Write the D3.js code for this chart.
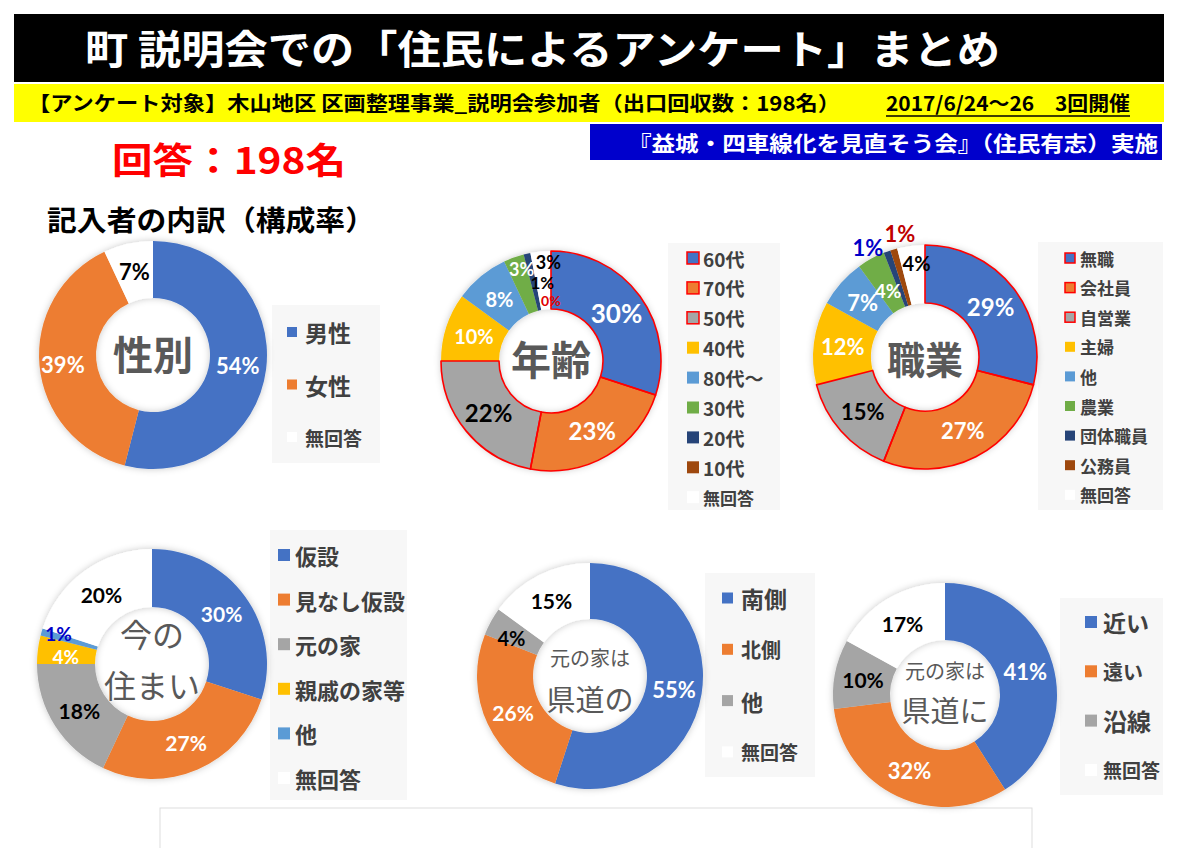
<!DOCTYPE html>
<html><head><meta charset="utf-8">
<script src="https://cdn.jsdelivr.net/npm/d3@7/dist/d3.min.js"></script>
<style>body{margin:0;background:#fff} svg{display:block}</style>
</head><body>
<svg id="c" width="1200" height="848"></svg>
<script>
// ---------- texts ----------
const titleText = "町 説明会での「住民によるアンケート」まとめ";
const targetText = "【アンケート対象】木山地区 区画整理事業_説明会参加者（出口回収数：198名）";
const dateText = "2017/6/24～26　3回開催";
const hostText = "『益城・四車線化を見直そう会』（住民有志）実施";
const answerText = "回答：198名";
const sectionText = "記入者の内訳（構成率）";

// ---------- data ----------
const genderCats = ["男性", "女性", "無回答"];
const genderPct = [54, 39, 7];
const ageCats = ["60代", "70代", "50代", "40代", "80代〜", "30代", "20代", "10代", "無回答"];
const agePct = [30, 23, 22, 10, 8, 3, 1, 0, 3];
const jobCats = ["無職", "会社員", "自営業", "主婦", "他", "農業", "団体職員", "公務員", "無回答"];
const jobPct = [29, 27, 15, 12, 7, 4, 1, 1, 4];
const homeCats = ["仮設", "見なし仮設", "元の家", "親戚の家等", "他", "無回答"];
const homePct = [30, 27, 18, 4, 1, 20];
const sideCats = ["南側", "北側", "他", "無回答"];
const sidePct = [55, 26, 4, 15];
const distCats = ["近い", "遠い", "沿線", "無回答"];
const distPct = [41, 32, 10, 17];

// ---------- styles ----------
const BLUE = "#4472C4", ORANGE = "#ED7D31", GRAY = "#A5A5A5", YELLOW = "#FFC000",
      LBLUE = "#5B9BD5", GREEN = "#70AD47", NAVY = "#264478", BROWN = "#9E480E", WHITE = "#FFFFFF";
const W = "#FFFFFF", K = "#000000", RED = "#C00000", DBLUE = "#0000C8";
const JP = "'Noto Sans CJK JP','Noto Sans CJK SC',sans-serif";
const NUM = "Lato,'Open Sans',sans-serif";

const svg = d3.select("#c");
const defs = svg.append("defs");
const f = defs.append("filter").attr("id", "sh").attr("x", "-20%").attr("y", "-20%").attr("width", "140%").attr("height", "140%");
f.append("feDropShadow").attr("dx", 0).attr("dy", 0).attr("stdDeviation", 3.5)
  .attr("flood-color", "#000").attr("flood-opacity", 0.22);

// ---------- header ----------
svg.append("rect").attr("x", 14).attr("y", 14).attr("width", 1150).attr("height", 68).attr("fill", "#000");
svg.append("text").attr("x", 85).attr("y", 64).attr("fill", "#fff")
  .attr("font-family", JP).attr("font-weight", "bold").attr("font-size", 40)
  .attr("textLength", 915).attr("lengthAdjust", "spacingAndGlyphs").text(titleText);

svg.append("rect").attr("x", 14).attr("y", 84).attr("width", 1150).attr("height", 38).attr("fill", "#FFFF00");
svg.append("text").attr("x", 28).attr("y", 111).attr("fill", "#000")
  .attr("font-family", JP).attr("font-weight", "bold").attr("font-size", 20)
  .attr("textLength", 812).attr("lengthAdjust", "spacingAndGlyphs").text(targetText);
svg.append("text").attr("x", 886).attr("y", 111).attr("fill", "#000")
  .attr("font-family", JP).attr("font-weight", "bold").attr("font-size", 20)
  .attr("textLength", 244).attr("lengthAdjust", "spacingAndGlyphs").text(dateText);
svg.append("line").attr("x1", 886).attr("x2", 1130).attr("y1", 116).attr("y2", 116)
  .attr("stroke", "#000").attr("stroke-width", 1.5);

svg.append("rect").attr("x", 590).attr("y", 124).attr("width", 572).attr("height", 36).attr("fill", "#0000CC");
svg.append("text").attr("x", 628).attr("y", 151).attr("fill", "#fff")
  .attr("font-family", JP).attr("font-weight", "bold").attr("font-size", 21)
  .attr("textLength", 530).attr("lengthAdjust", "spacingAndGlyphs").text(hostText);

svg.append("text").attr("x", 112).attr("y", 174).attr("fill", "#FF0000")
  .attr("font-family", JP).attr("font-weight", "bold").attr("font-size", 36)
  .attr("textLength", 234).attr("lengthAdjust", "spacingAndGlyphs").text(answerText);

svg.append("text").attr("x", 47).attr("y", 231).attr("fill", "#000")
  .attr("font-family", JP).attr("font-weight", "bold").attr("font-size", 28)
  .attr("textLength", 328).attr("lengthAdjust", "spacingAndGlyphs").text(sectionText);

// bottom faint frame
svg.append("rect").attr("x", 160).attr("y", 808).attr("width", 872).attr("height", 60)
  .attr("fill", "none").attr("stroke", "#DDDDDD").attr("stroke-width", 1);

// ---------- chart configs ----------
const charts = [
  { cats: genderCats, vals: genderPct, cx: 153, cy: 355, R: 114, r: 57,
    colors: [BLUE, ORANGE, WHITE], redEdge: 0,
    lblColor: [W, W, K], lblSize: [22, 22, 22], lblOff: { 1: [-5, 1] },
    center: [{ t: "性別", dy: -2, s: 40, w: "bold" }],
    legend: { box: [272, 305, 108, 158], y0: 332, step: 52.5, mx: 287, ms: 10, tx: 305, fs: [23, 23, 19] } },
  { cats: ageCats, vals: agePct, cx: 551, cy: 361, R: 110, r: 52,
    colors: [BLUE, ORANGE, GRAY, YELLOW, LBLUE, GREEN, NAVY, BROWN, WHITE], redEdge: 3,
    lblColor: [W, W, K, W, W, W, K, "#E00000", K], lblSize: [26, 24, 24, 20, 20, 18, 17, 14, 18],
    lblOff: { 5: [-2, -16], 6: [9, 1], 7: [15, 19], 8: [5, -18] },
    center: [{ t: "年齢", dy: -3, s: 40, w: "bold" }],
    legend: { box: [668, 243, 112, 267], y0: 258, step: 29.9, mx: 687, ms: 12, tx: 703, fs: Array(9).fill(19), fsLast: 17 } },
  { cats: jobCats, vals: jobPct, cx: 925, cy: 357, R: 112, r: 54,
    colors: [BLUE, ORANGE, GRAY, YELLOW, LBLUE, GREEN, NAVY, BROWN, WHITE], redEdge: 3,
    lblColor: [W, W, K, W, W, W, DBLUE, RED, K], lblSize: [24, 22, 22, 22, 22, 19, 22, 22, 20],
    lblOff: { 5: [3, 6], 6: [-29, -31], 7: [-2, -44], 8: [2, -12] },
    center: [{ t: "職業", dy: 0, s: 38, w: "bold" }],
    legend: { box: [1038, 242, 125, 268], y0: 258, step: 29.6, mx: 1065, ms: 10, tx: 1080, fs: Array(9).fill(17) } },
  { cats: homeCats, vals: homePct, cx: 152, cy: 664, R: 115, r: 57,
    colors: [BLUE, ORANGE, GRAY, YELLOW, LBLUE, WHITE], redEdge: 0,
    lblColor: [W, W, K, W, DBLUE, K], lblSize: [21, 21, 21, 19, 19, 21],
    lblOff: { 4: [-11, -7], 3: [-1, 3] },
    center: [{ t: "今の", dy: -31, s: 32, w: "normal" }, { t: "住まい", dy: 20, s: 32, w: "normal" }],
    legend: { box: [270, 530, 137, 270], y0: 555, step: 44.6, mx: 278, ms: 12, tx: 295, fs: [22, 22, 22, 22, 22, 22] } },
  { cats: sideCats, vals: sidePct, cx: 590, cy: 676, R: 113, r: 57,
    colors: [BLUE, ORANGE, GRAY, WHITE], redEdge: 0,
    lblColor: [W, W, K, K], lblSize: [22, 21, 20, 21],
    lblOff: { 2: [-4, 3] },
    center: [{ t: "元の家は", dy: -19, s: 20, w: "normal" }, { t: "県道の", dy: 22, s: 29, w: "normal" }],
    legend: { box: [705, 573, 110, 204], y0: 598, step: 51.3, mx: 722, ms: 11, tx: 741, fs: [23, 20, 22, 19] } },
  { cats: distCats, vals: distPct, cx: 945, cy: 695, R: 112, r: 55,
    colors: [BLUE, ORANGE, GRAY, WHITE], redEdge: 0,
    lblColor: [W, W, K, K], lblSize: [22, 22, 21, 21],
    lblOff: {},
    center: [{ t: "元の家は", dy: -25, s: 20, w: "normal" }, { t: "県道に", dy: 14, s: 29, w: "normal" }],
    legend: { box: [1060, 598, 103, 197], y0: 622, step: 49.3, mx: 1085, ms: 12, tx: 1103, fs: [23, 20, 24, 19] } }
];

// ---------- draw ----------
charts.forEach(c => {
  const L = c.legend;
  const lg = svg.append("g");
  lg.append("rect").attr("x", L.box[0]).attr("y", L.box[1]).attr("width", L.box[2]).attr("height", L.box[3])
    .attr("fill", "#F7F7F7");
  c.cats.forEach((name, i) => {
    const y = L.y0 + i * L.step;
    lg.append("rect").attr("x", L.mx).attr("y", y - L.ms / 2).attr("width", L.ms).attr("height", L.ms)
      .attr("fill", c.colors[i])
      .attr("stroke", i < c.redEdge ? "#FF0000" : "none").attr("stroke-width", 1.5);
    const fs = (L.fsLast && i === c.cats.length - 1) ? L.fsLast : L.fs[i];
    lg.append("text").attr("x", L.tx).attr("y", y).attr("dominant-baseline", "central")
      .attr("font-family", JP).attr("font-weight", "bold").attr("font-size", fs)
      .attr("fill", "#404040").text(name);
  });

  const g = svg.append("g").attr("transform", `translate(${c.cx},${c.cy})`);
  const pie = d3.pie().sort(null).value(d => d)(c.vals);
  const arc = d3.arc().innerRadius(c.r).outerRadius(c.R);
  const lblArc = d3.arc().innerRadius((c.r + c.R) / 2).outerRadius((c.r + c.R) / 2);

  const ring = g.append("g").attr("filter", "url(#sh)");
  ring.selectAll("path.s").data(pie).join("path").attr("class", "s")
    .attr("d", arc).attr("fill", (d, i) => c.colors[i]);
  if (c.redEdge) {
    g.selectAll("path.e").data(pie.slice(0, c.redEdge)).join("path").attr("class", "e")
      .attr("d", arc).attr("fill", "none").attr("stroke", "#FF0000").attr("stroke-width", 1.6)
      .attr("stroke-linejoin", "round");
  }

  c.center.forEach(t => {
    g.append("text").attr("x", 0).attr("y", t.dy).attr("text-anchor", "middle")
      .attr("dominant-baseline", "central").attr("font-family", JP).attr("font-weight", t.w)
      .attr("font-size", t.s).attr("fill", "#595959").text(t.t);
  });

  pie.forEach((d, i) => {
    const p = lblArc.centroid(d);
    const off = c.lblOff[i] || [0, 0];
    g.append("text").attr("x", p[0] + off[0]).attr("y", p[1] + off[1])
      .attr("text-anchor", "middle").attr("dominant-baseline", "central")
      .attr("font-family", NUM).attr("font-weight", "bold").attr("font-size", c.lblSize[i])
      .attr("fill", c.lblColor[i]).text(c.vals[i] + "%");
  });
});
</script>
</body></html>
